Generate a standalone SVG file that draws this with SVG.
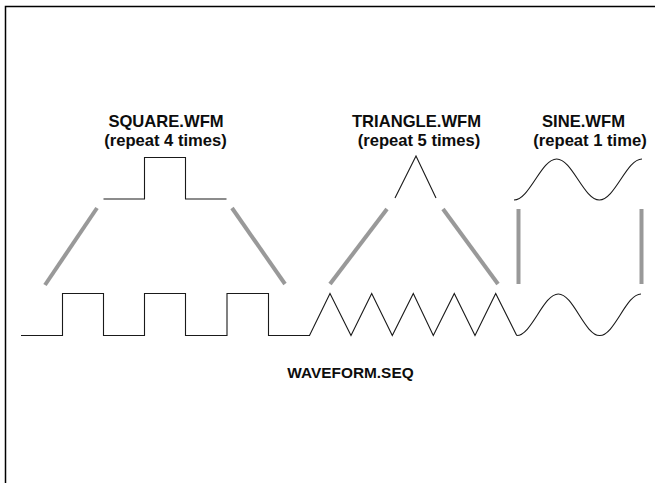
<svg xmlns="http://www.w3.org/2000/svg" width="655" height="483" viewBox="0 0 655 483">
  <style>
    .frame { fill: none; stroke: #000; stroke-width: 1.5; }
    .wave { fill: none; stroke: #1a1a1a; stroke-width: 1.1; stroke-linejoin: miter; }
    .guide { fill: none; stroke: #999; stroke-width: 4; stroke-linecap: butt; }
    .label { font-family: "Liberation Sans", Arial, Helvetica, sans-serif; font-weight: bold; fill: #0d0d0d; text-anchor: middle; }
    .head { font-size: 16.6px; }
    .seq { font-size: 15.4px; }
  </style>
  <rect width="655" height="483" fill="#fff"/>

  <!-- open frame: top and left edges only -->
  <path class="frame" d="M5.5,483 V6.5 H655"/>

  <!-- source waveform: square pulse -->
  <g id="square-wfm">
    <text class="label head" x="166" y="126.5">SQUARE.WFM</text>
    <text class="label head" x="165.5" y="145.5">(repeat 4 times)</text>
    <path class="wave" d="M103.5,199 H144.5 V157.5 H185.5 V199 H226.5"/>
  </g>

  <!-- source waveform: triangle -->
  <g id="triangle-wfm">
    <text class="label head" x="416.5" y="126.5">TRIANGLE.WFM</text>
    <text class="label head" x="419" y="145.5">(repeat 5 times)</text>
    <path class="wave" d="M395,198 L416,156 L436,198"/>
  </g>

  <!-- source waveform: sine -->
  <g id="sine-wfm">
    <text class="label head" x="583.5" y="126.5">SINE.WFM</text>
    <text class="label head" x="590" y="145.5">(repeat 1 time)</text>
    <path class="wave" d="M514,200 C529.53,200 541.14,159 556.67,159 C572.2,159 583.8,200 599.33,200 C614.86,200 626.47,159 642,159"/>
  </g>

  <!-- resulting sequence -->
  <g id="waveform-seq">
    <path class="wave" d="M21,335.5 H62.5 V293.5 H103.5 V335.5 H144.5 V293.5 H185.5 V335.5 H227 V293.5 H268.5 V335.5 H309.5 L330,293.5 L351,335.5 L371.7,293.5 L392.3,335.5 L413.3,293.5 L433.3,335.5 L454.3,293.5 L475,335.5 L495.7,293.5 L516.7,335.5"/>
    <path class="wave" d="M516.7,335.5 C531.74,335.5 543.29,294 558.33,294 C573.37,294 584.62,335.5 599.67,335.5 C614.71,335.5 625.96,294 641,294"/>
    <text class="label seq" x="350.5" y="377.5">WAVEFORM.SEQ</text>
  </g>

  <!-- expansion guides from each source waveform to its span in the sequence -->
  <g id="connectors">
    <line class="guide" x1="97" y1="208" x2="45" y2="285"/>
    <line class="guide" x1="232" y1="208" x2="285" y2="284"/>
    <line class="guide" x1="387" y1="209" x2="330" y2="284"/>
    <line class="guide" x1="443" y1="209" x2="498" y2="284"/>
    <line class="guide" x1="518.5" y1="209" x2="518.5" y2="284"/>
    <line class="guide" x1="641.5" y1="209" x2="641.5" y2="284"/>
  </g>
</svg>
